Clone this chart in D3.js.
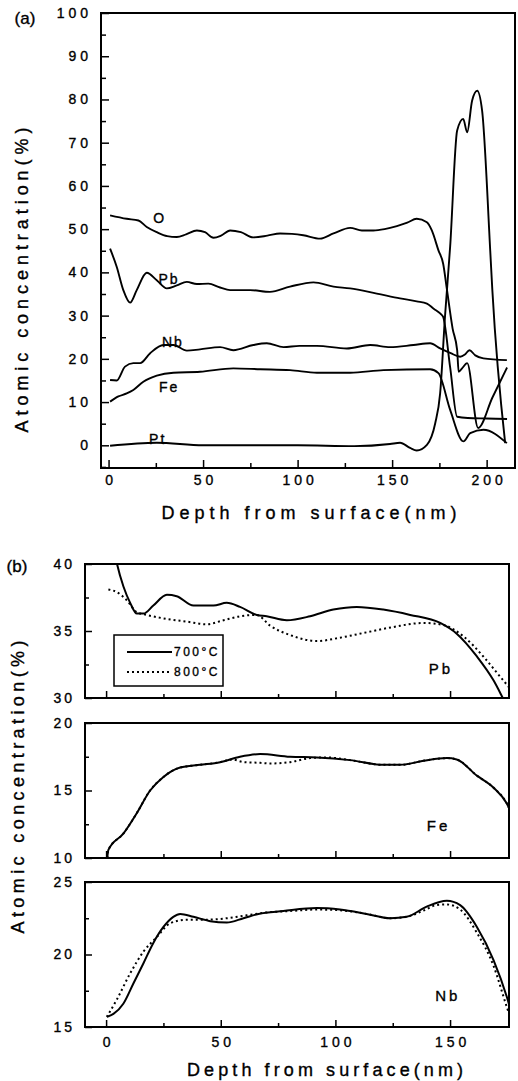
<!DOCTYPE html>
<html><head><meta charset="utf-8">
<script src="https://cdn.jsdelivr.net/npm/d3@7"></script>
<style>
body{margin:0;background:#fff}
svg text{font-family:"Liberation Sans",Arial,sans-serif;fill:#000;stroke:#000;stroke-width:0.35px}
</style>
</head><body><svg id="c" width="518" height="1081"></svg>
<script>
// ---------- Panel (a) data : depth (nm) / atomic concentration (%) ----------
const depthO  = [0.8,9.6,15.8,20.2,25.5,31,36.1,41,46.7,51,55.5,59.5,64.3,70,76.5,84,90.7,97,103,111.9,119,127.8,134,140.1,146,152.5,158,163,168.4,171,174.5,177,179,182,184.4,185.2,187,189.7,195.5,203,210.8];
const concO   = [53.2,52.4,52.0,50.5,49.3,48.4,48.2,48.8,49.7,49.3,48.0,48.5,49.7,49.3,48.1,48.5,49.0,48.9,48.6,47.8,49.0,50.3,49.7,49.7,50.0,50.7,51.5,52.4,51.6,49.7,45.1,42,36,27,22,17,17.8,19,4,11,18];
const depthPb = [0.8,4.3,7.8,11.4,14.9,20.2,25.5,30.8,36.1,41.4,46.7,52.8,59,64.3,74.9,85.4,96,108.4,119,127.8,141.9,154.2,163,168.4,172,175.4,177,180.7,184.4,190,200,210.8];
const concPb  = [45.5,41.3,35.9,33.0,35.9,39.9,38.2,36.3,37.0,37.8,37.3,37.4,36.5,35.9,35.9,35.5,36.7,37.7,36.7,36.3,35.1,34.0,33.3,32.8,31.6,30.5,29.7,18,6.6,6.3,6.2,6.1];
const depthNb = [0.8,4.3,8.7,13.1,16.7,22,29,34.3,41.4,48.4,59,66,76.6,83.7,92.5,101,110.2,126,138.4,148.9,161.3,170.1,175.4,181,186,188.5,190.9,194,198.3,210.7];
const concNb  = [15.1,15.0,18.2,19.0,19.0,21.3,23.2,23.2,21.9,22.2,22.7,22.0,23.2,23.6,22.7,23.0,23.0,22.4,23.2,22.7,23.2,23.6,22.4,21.3,20.5,21.0,22.0,20.8,20.1,19.7];
const depthFe = [0.8,5.2,9.6,13.1,18.4,25.5,34.3,48.4,66,80.2,96,110.2,127.8,145.4,170.1,174.5,180.7,187.7,191.3,198.3,210.7];
const concFe  = [10.1,11.3,12.0,12.8,14.7,16.1,16.8,17.0,17.8,17.6,17.4,16.8,16.8,17.4,17.6,16.7,8.2,0.9,2.8,3.6,0.5];
const depthPt = [0.8,25.5,50,100,130,148.9,154.2,159.5,163,168.4,172.8,175.4,178,180.7,184.4,187.6,189.7,192.3,195,197.6,201.9,203,209.8];
const concPt  = [-0.1,0.6,0,0,-0.2,0.3,0.6,-0.6,-1.2,0.1,5.1,12,30,46,72.8,75.5,72.4,79.7,82,77.4,45,36,0.5];

// ---------- Panel (b) data : 700°C (solid) and 800°C (dotted) ----------
const depthPb700 = [3,4.7,7.6,10.5,13.4,16.3,20.6,26.5,30.8,38.1,46.8,52.6,58.4,65.7,70,78.8,89,99.1,109.3,120.9,132.6,145.7,152.9,161.7,169,173.3,176];
const concPb700  = [41.5,40.05,38.3,37.1,36.3,36.3,36.9,37.7,37.6,36.9,36.9,37.1,36.8,36.2,36.1,35.8,36.1,36.6,36.8,36.6,36.2,35.6,34.8,33.1,31.3,29.9,29.0];
const depthPb800 = [1,4.7,9,13.4,17.7,26.5,35.2,43.9,51.2,58.4,65.7,71.5,80.2,91.9,102,113.6,125.3,138.4,147.1,155.8,164.5,171.8,176.2];
const concPb800  = [38.1,37.9,37.3,36.4,36.2,35.9,35.7,35.5,35.8,36.1,36.2,35.4,34.7,34.25,34.5,34.9,35.3,35.6,35.45,34.6,33.1,31.6,30.7];
const depthFe700 = [0.5,1,7.5,13.3,19.2,25,32.3,41,49.7,58.4,67.2,80.2,91.9,106.4,120.9,128.2,138.4,148.6,152.9,161.7,169,174.7,176];
const concFe700  = [10.0,10.6,11.8,13.3,15.0,16.0,16.7,16.9,17.1,17.5,17.7,17.5,17.45,17.25,16.9,16.9,17.2,17.4,17.3,16.1,15.2,14.05,13.6];
const depthFe800 = [0.5,1,7.5,13.3,19.2,25,32.3,41,49.7,55,59.9,67.2,71.5,80.2,89,96,106.4,120.9,128.2,138.4,148.6,152.9,161.7,169,174.7,176];
const concFe800  = [10.0,10.6,11.8,13.3,15.0,16.0,16.7,16.9,17.1,17.3,17.1,17.05,17.0,17.1,17.4,17.45,17.25,16.9,16.9,17.2,17.4,17.3,16.1,15.2,14.05,13.6];
const depthNb700 = [0.3,3.2,7.5,11.9,16.3,20.6,25,29.3,32.3,38.1,45.4,52.6,59.9,66.4,77.3,91.9,102,113.6,123.9,131.1,139.8,148.6,154.4,161.7,169,174.7,176];
const concNb700  = [15.7,15.9,16.6,18.0,19.4,20.8,21.9,22.6,22.8,22.6,22.3,22.2,22.5,22.8,23.0,23.2,23.1,22.8,22.5,22.6,23.3,23.7,23.4,21.9,19.6,17.1,16.4];
const depthNb800 = [0.3,4.7,10.5,16.3,22.1,27.9,35.2,43.9,52.6,61.3,70,80,91.9,102,113.6,123.9,131.1,138,144,148.6,154.4,161.7,169,174.7,176];
const concNb800  = [15.7,16.9,18.7,20.2,21.2,22.15,22.4,22.4,22.5,22.7,22.9,23.0,23.1,23.05,22.8,22.5,22.6,23.0,23.4,23.45,23.1,21.5,19.2,16.4,15.8];

// ---------- ticks and labels ----------
const yTicksA = [0,10,20,30,40,50,60,70,80,90,100];
const yMinorA = [-5,5,15,25,35,45,55,65,75,85,95];
const xTicksA = [0,50,100,150,200];
const xMinorA = [25,75,125,175];
const xTicksB = [0,50,100,150];
const xMinorB = [25,75,125];
const yTicksB1 = [30,35,40], yMinorB1 = [32.5,37.5];
const yTicksB2 = [10,15,20], yMinorB2 = [12.5,17.5];
const yTicksB3 = [15,20,25], yMinorB3 = [17.5,22.5];
const labelsA = ["O","Pb","Nb","Fe","Pt"];
const legendLabels = ["700\u00B0C","800\u00B0C"];
const panelLabelsB = ["Pb","Fe","Nb"];

const svg = d3.select("#c");
const defs = svg.append("defs");

function styleAxis(g, fs, ls){
  g.select(".domain").remove();
  g.selectAll(".tick line").attr("stroke","#000").attr("stroke-width",1.5);
  g.selectAll(".tick text").attr("font-size",fs).attr("letter-spacing",ls);
}
function frame(x0,y0,x1,y1){
  svg.append("rect").attr("x",x0).attr("y",y0).attr("width",x1-x0).attr("height",y1-y0)
    .attr("fill","none").attr("stroke","#000").attr("stroke-width",2);
}
function clip(id,x0,y0,x1,y1){
  defs.append("clipPath").attr("id",id).append("rect")
    .attr("x",x0).attr("y",y0).attr("width",x1-x0).attr("height",y1-y0);
}

// ================= Panel (a) =================
const xa = d3.scaleLinear().domain([-4,215]).range([101,515]);
const ya = d3.scaleLinear().domain([-5.25,100]).range([468,13]);

let g = svg.append("g").attr("transform","translate(101,0)")
  .call(d3.axisLeft(ya).tickValues(yTicksA).tickSize(-8).tickPadding(9));
styleAxis(g,14,"4px");
g = svg.append("g").attr("transform","translate(101,0)")
  .call(d3.axisLeft(ya).tickValues(yMinorA).tickSize(-5).tickFormat(""));
styleAxis(g,14,"0px");
g = svg.append("g").attr("transform","translate(0,468)")
  .call(d3.axisBottom(xa).tickValues(xTicksA).tickSize(-8).tickPadding(7));
styleAxis(g,14,"4px");
g.selectAll(".tick text").attr("dx","2px");
g = svg.append("g").attr("transform","translate(0,468)")
  .call(d3.axisBottom(xa).tickValues(xMinorA).tickSize(-5).tickFormat(""));
styleAxis(g,14,"0px");

clip("clipA",101,13,515,468);
const lineA = d3.line().x(d=>xa(d[0])).y(d=>ya(d[1])).curve(d3.curveMonotoneX);
const seriesA = [[depthO,concO],[depthPb,concPb],[depthNb,concNb],[depthFe,concFe],[depthPt,concPt]];
svg.append("g").attr("clip-path","url(#clipA)").selectAll("path")
  .data(seriesA.map(s=>d3.zip(s[0],s[1]))).join("path")
  .attr("d",lineA).attr("fill","none").attr("stroke","#000").attr("stroke-width",1.9)
  .attr("stroke-linejoin","round");
frame(101,13,515,468);

// series labels (placed at depth / conc positions)
const labelPosA = [[27,52.5],[32,38.5],[34,24],[32,13.5],[26,1.5]];
svg.append("g").selectAll("text").data(labelsA).join("text")
  .attr("x",(d,i)=>xa(labelPosA[i][0])).attr("y",(d,i)=>ya(labelPosA[i][1]))
  .attr("text-anchor","middle").attr("dominant-baseline","central")
  .attr("font-size",14).attr("letter-spacing","2px").text(d=>d);

svg.append("text").attr("x",25).attr("y",18).attr("text-anchor","middle")
  .attr("dominant-baseline","central").attr("font-size",17).text("(a)");
svg.append("text").attr("transform","translate(22,280) rotate(-90)")
  .attr("text-anchor","middle").attr("dominant-baseline","central")
  .attr("font-size",18).attr("textLength",305).attr("lengthAdjust","spacing")
  .text("Atomic concentration(%)");
svg.append("text").attr("x",309).attr("y",513).attr("text-anchor","middle")
  .attr("dominant-baseline","central").attr("font-size",18)
  .attr("textLength",295).attr("lengthAdjust","spacing").text("Depth from surface(nm)");

// ================= Panel (b) =================
const xb = d3.scaleLinear().domain([-9.2,175.7]).range([85,509]);
const subPanels = [
  {y:d3.scaleLinear().domain([30,40]).range([698,564]), t:yTicksB1, m:yMinorB1,
   s:[[depthPb700,concPb700],[depthPb800,concPb800]], lab:[146,32.2]},
  {y:d3.scaleLinear().domain([10,20]).range([858,723]), t:yTicksB2, m:yMinorB2,
   s:[[depthFe700,concFe700],[depthFe800,concFe800]], lab:[145,12.4]},
  {y:d3.scaleLinear().domain([15,25]).range([1027,882]), t:yTicksB3, m:yMinorB3,
   s:[[depthNb700,concNb700],[depthNb800,concNb800]], lab:[149,17.2]}
];
subPanels.forEach((p,i)=>{
  const [y1,y0] = p.y.range();
  let a = svg.append("g").attr("transform","translate(85,0)")
    .call(d3.axisLeft(p.y).tickValues(p.t).tickSize(-7).tickPadding(10));
  styleAxis(a,14,"3px");
  a = svg.append("g").attr("transform","translate(85,0)")
    .call(d3.axisLeft(p.y).tickValues(p.m).tickSize(-4).tickFormat(""));
  styleAxis(a,14,"0px");
  a = svg.append("g").attr("transform",`translate(0,${y1})`)
    .call(d3.axisBottom(xb).tickValues(xTicksB).tickSize(-7).tickPadding(10)
      .tickFormat(i===2 ? d3.format("d") : ""));
  styleAxis(a,14,"4px");
  a.selectAll(".tick text").attr("dx","2px");
  a = svg.append("g").attr("transform",`translate(0,${y1})`)
    .call(d3.axisBottom(xb).tickValues(xMinorB).tickSize(-4).tickFormat(""));
  styleAxis(a,14,"0px");

  clip("clipB"+i,85,y0,509,y1);
  const ln = d3.line().x(d=>xb(d[0])).y(d=>p.y(d[1])).curve(d3.curveMonotoneX);
  const gg = svg.append("g").attr("clip-path",`url(#clipB${i})`);
  gg.append("path").datum(d3.zip(p.s[0][0],p.s[0][1])).attr("d",ln)
    .attr("fill","none").attr("stroke","#000").attr("stroke-width",2);
  gg.append("path").datum(d3.zip(p.s[1][0],p.s[1][1])).attr("d",ln)
    .attr("fill","none").attr("stroke","#000").attr("stroke-width",2)
    .attr("stroke-dasharray","2,3");
  frame(85,y0,509,y1);
  svg.append("text").attr("x",xb(p.lab[0])).attr("y",p.y(p.lab[1]))
    .attr("text-anchor","middle").attr("dominant-baseline","central")
    .attr("font-size",15).attr("letter-spacing","3px").text(panelLabelsB[i]);
});

// legend
const lg = svg.append("g");
lg.append("rect").attr("x",114).attr("y",635).attr("width",109).attr("height",51)
  .attr("fill","#fff").attr("stroke","#000").attr("stroke-width",1.5);
[0,1].forEach(i=>{
  const yy = 652 + i*20;
  lg.append("line").attr("x1",127).attr("x2",172).attr("y1",yy).attr("y2",yy)
    .attr("stroke","#000").attr("stroke-width",2)
    .attr("stroke-dasharray", i ? "2,3" : null);
  lg.append("text").attr("x",174).attr("y",yy).attr("dominant-baseline","central")
    .attr("font-size",12).attr("letter-spacing","2.5px").text(legendLabels[i]);
});

svg.append("text").attr("x",17).attr("y",566).attr("text-anchor","middle")
  .attr("dominant-baseline","central").attr("font-size",17).text("(b)");
svg.append("text").attr("transform","translate(18,787) rotate(-90)")
  .attr("text-anchor","middle").attr("dominant-baseline","central")
  .attr("font-size",18).attr("textLength",293).attr("lengthAdjust","spacing")
  .text("Atomic concentration(%)");
svg.append("text").attr("x",325).attr("y",1070).attr("text-anchor","middle")
  .attr("dominant-baseline","central").attr("font-size",18)
  .attr("textLength",276).attr("lengthAdjust","spacing").text("Depth from surface(nm)");
</script>
</body></html>
